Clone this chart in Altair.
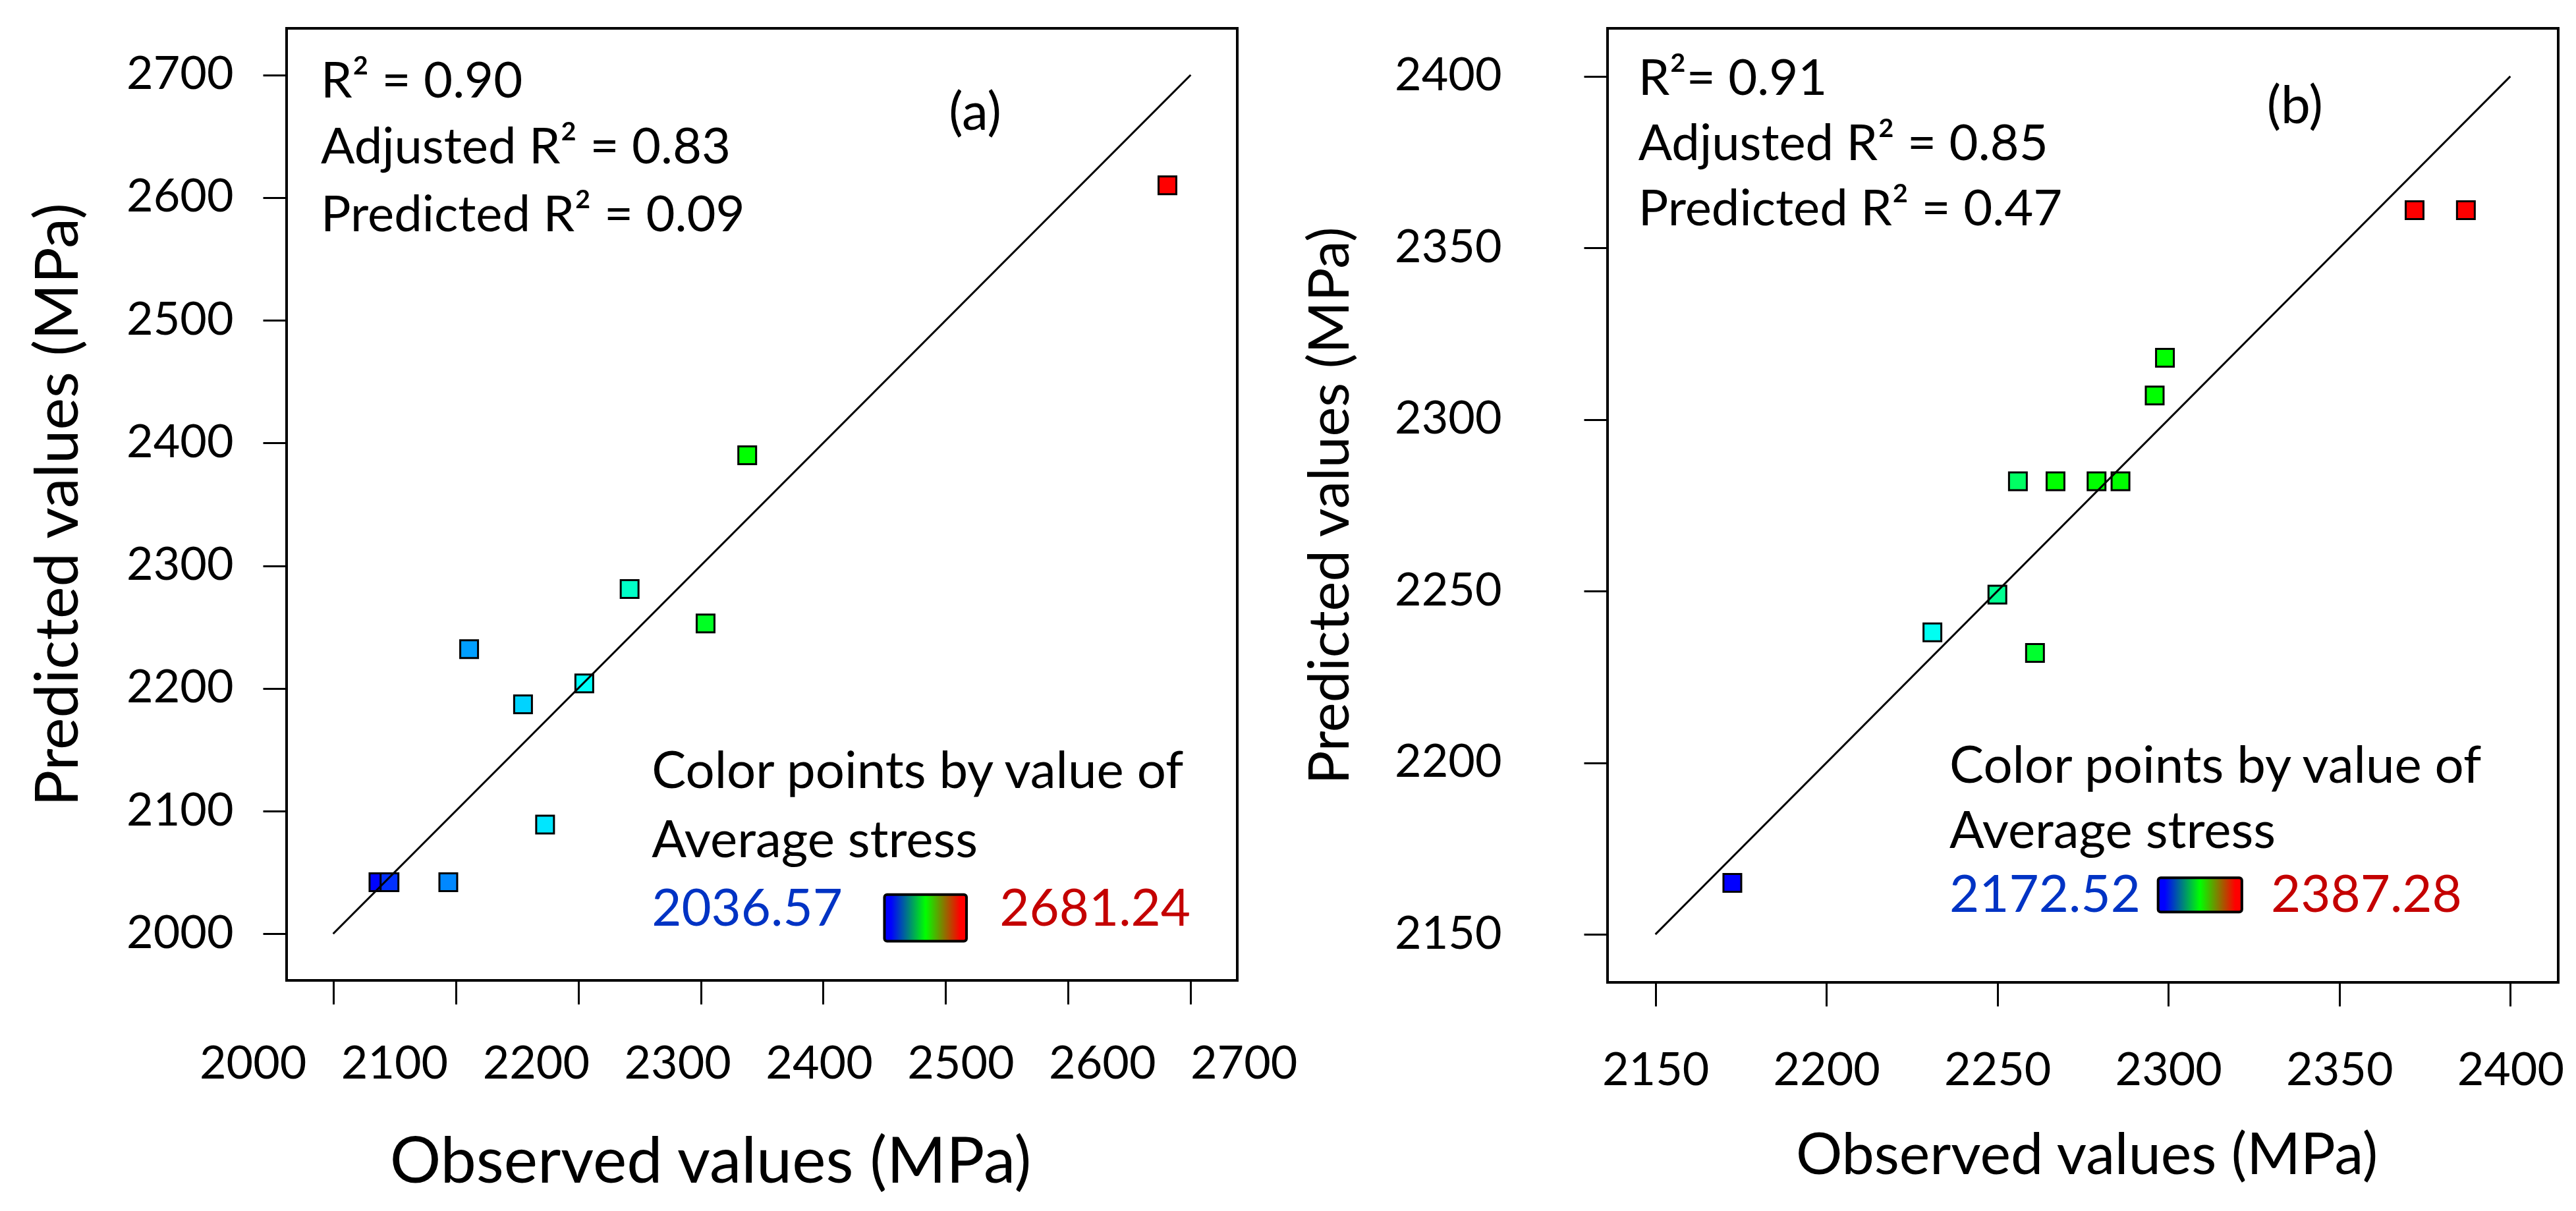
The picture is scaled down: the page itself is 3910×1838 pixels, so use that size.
import altair as alt
import pandas as pd

FONT = "Lato"

# ---- panel (a) ----
OBS_A = [2681, 2338, 2242, 2304, 2111, 2205, 2155, 2173, 2037, 2046, 2094]
PRED_A = [2610, 2390, 2281, 2253, 2232, 2204, 2187, 2089, 2042, 2042, 2042]
DOMAIN_A = [1962, 2738]
TICKS_A = [2000, 2100, 2200, 2300, 2400, 2500, 2600, 2700]
DIAG_A = [2000, 2700]
STATS_A = ["R² = 0.90", "Adjusted R² = 0.83", "Predicted R² = 0.09"]
STATS_A_X = [1990, 1990, 1990]
STATS_A_Y = [2694, 2640, 2585]
TAG_A = ["(a)"]
TAG_A_X = [2524]
TAG_A_Y = [2668]
LEGEND_TITLE = ["Color points by value of", "Average stress"]
LEG_A_X = [2260, 2260]
LEG_A_Y = [2131, 2075]
LOW_A = ["2036.57"]
HIGH_A = ["2681.24"]
LOWHIGH_A_X = [2260, 2544]
LOWHIGH_A_Y = [2019, 2019]
BAR_A_X = [2450, 2517]
BAR_A_Y = [1994, 2032]

# ---- panel (b) ----
OBS_B = [2372, 2387, 2299, 2296, 2256, 2267, 2279, 2286, 2250, 2231, 2261, 2172.5]
PRED_B = [2361, 2361, 2318, 2307, 2282, 2282, 2282, 2282, 2249, 2238, 2232, 2165]
DOMAIN_B = [2136, 2414]
TICKS_B = [2150, 2200, 2250, 2300, 2350, 2400]
DIAG_B = [2150, 2400]
STATS_B = ["R²= 0.91", "Adjusted R² = 0.85", "Predicted R² = 0.47"]
STATS_B_X = [2145, 2145, 2145]
STATS_B_Y = [2399, 2380, 2361]
TAG_B = ["(b)"]
TAG_B_X = [2337]
TAG_B_Y = [2391]
LEG_B_X = [2236, 2236]
LEG_B_Y = [2198.5, 2179.5]
LOW_B = ["2172.52"]
HIGH_B = ["2387.28"]
LOWHIGH_B_X = [2236, 2330]
LOWHIGH_B_Y = [2161, 2161]
BAR_B_X = [2297, 2321.5]
BAR_B_Y = [2156.5, 2166.5]

# colour ramp used by the software (fraction of the stress range)
COLOR_STOPS = [0, 0.25, 0.42, 0.6, 0.9, 1]
COLOR_RANGE = ["#0000ff", "#00ffff", "#00ff00", "#00ff00", "#ff0000", "#ff0000"]

X_TITLE = "Observed values (MPa)"
Y_TITLE = "Predicted values (MPa)"

# x labels of panel (a) are shifted relative to their ticks in the original
LABEL_SHIFT_A = "(datum.value - 2000) * 0.289 - 122"


def panel(obs, pred, c_lo, c_hi, domain, ticks, diag, stats, stats_x, stats_y,
          tag, tag_x, tag_y, leg_x, leg_y, low, high, lh_x, lh_y, bar_x, bar_y,
          xaxis_opts, yaxis_opts, w, h):
    scale = alt.Scale(domain=domain, nice=False, zero=False)
    xaxis = alt.Axis(values=ticks, title=X_TITLE, format="d", **xaxis_opts)
    yaxis = alt.Axis(values=ticks, title=Y_TITLE, format="d", **yaxis_opts)

    def enc(**extra):
        return dict(x=alt.X("obs:Q", scale=scale, axis=xaxis),
                    y=alt.Y("pred:Q", scale=scale, axis=yaxis), **extra)

    pts = pd.DataFrame({"obs": obs, "pred": pred})
    squares = alt.Chart(pts).transform_calculate(
        frac=f"(datum.obs - {c_lo}) / ({c_hi} - {c_lo})"
    ).mark_square(size=729, opacity=1, filled=True, stroke="black",
                  strokeWidth=3).encode(**enc(
                      color=alt.Color("frac:Q", legend=None,
                                      scale=alt.Scale(domain=COLOR_STOPS,
                                                      range=COLOR_RANGE))))

    line = alt.Chart(pd.DataFrame({"obs": diag, "pred": diag})).mark_line(
        color="black", strokeWidth=3).encode(**enc())

    def texts(labels, xs, ys, color, size=76, align="left"):
        df = pd.DataFrame({"obs": xs, "pred": ys, "t": labels})
        return alt.Chart(df).mark_text(
            align=align, baseline="middle", font=FONT, fontSize=size,
            color=color).encode(**enc(text="t:N"))

    stat_txt = texts(stats, stats_x, stats_y, "black")
    tag_txt = texts(tag, tag_x, tag_y, "black", size=80, align="center")
    leg_txt = texts(LEGEND_TITLE, leg_x, leg_y, "black", size=78)
    low_txt = texts(low, lh_x[:1], lh_y[:1], "#0033c4", size=78)
    high_txt = texts(high, lh_x[1:], lh_y[1:], "#c40000", size=78)

    grad = alt.Gradient(gradient="linear", x1=0, x2=1, y1=0, y2=0, stops=[
        alt.GradientStop(color="#0000ff", offset=0),
        alt.GradientStop(color="#0000ff", offset=0.08),
        alt.GradientStop(color="#00ff00", offset=0.5),
        alt.GradientStop(color="#ff0000", offset=0.92),
        alt.GradientStop(color="#ff0000", offset=1)])
    bar_df = pd.DataFrame({"obs": [bar_x[0]], "obs2": [bar_x[1]],
                           "pred": [bar_y[0]], "pred2": [bar_y[1]]})
    bar = alt.Chart(bar_df).mark_rect(fill=grad, stroke="black", strokeWidth=4,
                                      cornerRadius=4).encode(
        **enc(x2="obs2:Q", y2="pred2:Q"))

    return alt.layer(squares, line, stat_txt, tag_txt, leg_txt, low_txt,
                     high_txt, bar).properties(width=w, height=h)


chart_a = panel(
    OBS_A, PRED_A, 2036.57, 2681.24, DOMAIN_A, TICKS_A, DIAG_A,
    STATS_A, STATS_A_X, STATS_A_Y, TAG_A, TAG_A_X, TAG_A_Y,
    LEG_A_X, LEG_A_Y, LOW_A, HIGH_A, LOWHIGH_A_X, LOWHIGH_A_Y, BAR_A_X, BAR_A_Y,
    dict(labelPadding=57, titlePadding=67, titleFontSize=97,
         labelOffset=alt.ExprRef(expr=LABEL_SHIFT_A), titleX=643),
    dict(labelPadding=45, titlePadding=55, titleFontSize=92),
    1443, 1445)
chart_b = panel(
    OBS_B, PRED_B, 2172.52, 2387.28, DOMAIN_B, TICKS_B, DIAG_B,
    STATS_B, STATS_B_X, STATS_B_Y, TAG_B, TAG_B_X, TAG_B_Y,
    LEG_B_X, LEG_B_Y, LOW_B, HIGH_B, LOWHIGH_B_X, LOWHIGH_B_Y, BAR_B_X, BAR_B_Y,
    dict(labelPadding=64, titlePadding=51, titleFontSize=88, titleX=727),
    dict(labelPadding=125, titlePadding=52, titleFontSize=85),
    1443, 1448)

chart = alt.hconcat(chart_a, chart_b, spacing=5).properties(
    padding={"left": 33, "top": 33, "right": 5, "bottom": 5}
).configure_view(
    stroke="black", strokeWidth=4
).configure_axis(
    domain=False, grid=False, tickColor="black", tickWidth=3, tickSize=36,
    labelFont=FONT, labelFontSize=70, labelColor="black", labelFlush=False,
    labelOverlap=False, titleFont=FONT, titleFontSize=90,
    titleFontWeight="normal", titleColor="black", maxExtent=1000
)

chart.save("out.html", embed_options={"renderer": "svg", "actions": False})
